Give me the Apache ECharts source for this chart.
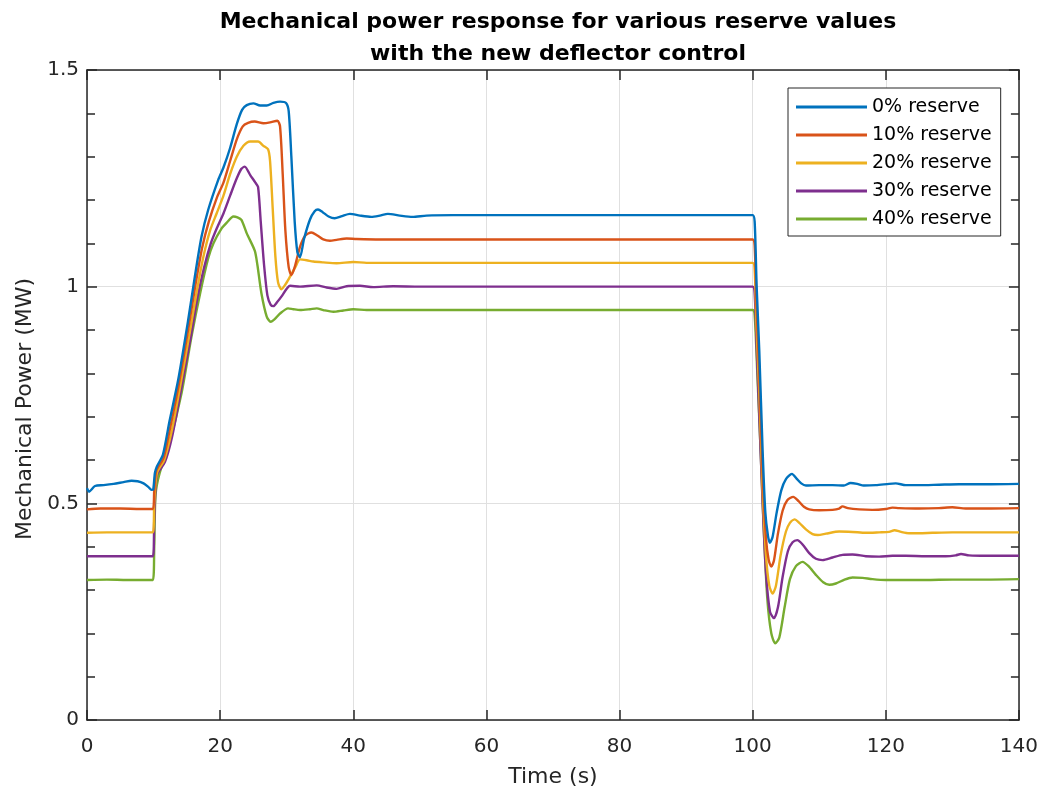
<!DOCTYPE html>
<html>
<head>
<meta charset="utf-8">
<script src="https://cdn.jsdelivr.net/npm/echarts@6/dist/echarts.min.js"></script>
<style>html,body{margin:0;padding:0;background:#fff;}#c{width:1041px;height:795px;}</style>
</head>
<body>
<div id="c"></div>
<script>
const titleLines = ['Mechanical power response for various reserve values', 'with the new deflector control'];
const xName = 'Time (s)';
const yName = 'Mechanical Power (MW)';
const seriesNames = ['0% reserve', '10% reserve', '20% reserve', '30% reserve', '40% reserve'];
const seriesColors = ['#0072BD', '#D95319', '#EDB120', '#7E2F8E', '#77AC30'];

const reserve0 = [[0,0.535],[0.3,0.527],[1.2,0.540],[2.5,0.542],[4,0.545],[5.5,0.549],[6.7,0.552],[7.6,0.551],[8.5,0.546],[9.2,0.538],[9.7,0.531],[9.95,0.532],[10.2,0.57],[10.5,0.585],[11.4,0.612],[12.4,0.69],[13.7,0.785],[15.2,0.923],[16.2,1.023],[17.2,1.115],[18.2,1.177],[19.7,1.246],[20.5,1.275],[21.5,1.32],[22.5,1.375],[23.3,1.408],[24,1.419],[25,1.423],[26,1.418],[27,1.418],[28,1.424],[29,1.427],[29.9,1.424],[30.3,1.405],[30.7,1.3],[31.2,1.15],[31.6,1.08],[32,1.068],[32.6,1.11],[33.5,1.155],[34.2,1.174],[34.7,1.178],[35.4,1.172],[36.3,1.162],[37.2,1.158],[38.3,1.163],[39.5,1.168],[41,1.164],[42.7,1.161],[44,1.164],[45.2,1.168],[47,1.164],[48.9,1.161],[51,1.164],[55,1.165],[60,1.165],[70,1.165],[80,1.165],[90,1.165],[100,1.165],[100.3,1.15],[100.6,1.0],[101,0.85],[101.5,0.62],[101.9,0.48],[102.3,0.425],[102.6,0.409],[103,0.423],[103.6,0.478],[104.3,0.53],[105,0.556],[105.9,0.568],[106.6,0.557],[107.3,0.546],[108,0.541],[110,0.542],[112,0.542],[113.7,0.541],[114.7,0.547],[115.7,0.545],[116.7,0.541],[118.5,0.542],[120.5,0.545],[121.5,0.546],[123,0.542],[125,0.542],[128,0.543],[131,0.544],[135,0.544],[140,0.545]];

const reserve10 = [[0,0.486],[2,0.488],[5,0.488],[8,0.487],[9.9,0.487],[10.1,0.53],[10.4,0.575],[11.5,0.605],[12.5,0.675],[13.8,0.775],[15.3,0.91],[16.3,1.005],[17.3,1.09],[18.3,1.15],[19.5,1.205],[20.5,1.24],[21.5,1.29],[22.5,1.34],[23.4,1.37],[24.2,1.378],[25.2,1.381],[26.5,1.377],[27.5,1.379],[28.6,1.383],[29,1.37],[29.4,1.26],[29.8,1.13],[30.3,1.045],[30.7,1.027],[31.2,1.045],[32,1.092],[32.8,1.118],[33.7,1.125],[34.6,1.118],[35.5,1.109],[36.5,1.106],[37.5,1.108],[39,1.111],[40.5,1.11],[44,1.109],[50,1.109],[60,1.109],[80,1.109],[100,1.109],[100.3,1.095],[100.6,0.95],[101,0.8],[101.5,0.57],[102,0.42],[102.4,0.37],[102.8,0.354],[103.2,0.368],[103.8,0.43],[104.5,0.483],[105.2,0.507],[106.1,0.515],[106.9,0.505],[107.7,0.492],[108.5,0.486],[110,0.484],[112,0.485],[113,0.488],[113.5,0.493],[114.3,0.489],[116,0.486],[118,0.485],[120,0.487],[121,0.49],[122,0.489],[125,0.488],[128,0.489],[130,0.491],[132,0.488],[135,0.488],[140,0.489]];

const reserve20 = [[0,0.432],[3,0.433],[6,0.433],[9.9,0.433],[10.1,0.5],[10.5,0.57],[11.6,0.6],[12.7,0.665],[14,0.77],[15.5,0.9],[16.5,0.99],[17.5,1.07],[18.5,1.13],[19.5,1.17],[20.5,1.21],[21.5,1.26],[22.5,1.3],[23.5,1.325],[24.5,1.335],[25.7,1.335],[26.5,1.325],[27.2,1.317],[27.5,1.29],[27.9,1.18],[28.3,1.07],[28.7,1.01],[29.2,0.994],[29.8,1.005],[30.5,1.023],[31.3,1.045],[32,1.063],[33,1.061],[34,1.058],[35.5,1.056],[37.5,1.054],[40,1.057],[42,1.055],[50,1.055],[70,1.055],[100,1.055],[100.3,1.04],[100.6,0.9],[101,0.75],[101.5,0.53],[102,0.38],[102.5,0.31],[103,0.292],[103.5,0.31],[104.2,0.38],[105,0.435],[105.6,0.455],[106.3,0.463],[107,0.455],[108,0.44],[109,0.429],[109.8,0.427],[111,0.43],[113,0.435],[115,0.434],[117,0.432],[119,0.433],[120.5,0.434],[121.3,0.438],[122.3,0.434],[123.5,0.431],[125,0.431],[127,0.432],[130,0.433],[135,0.433],[140,0.433]];

const reserve30 = [[0,0.378],[3,0.378],[6,0.378],[9.9,0.378],[10.1,0.46],[10.5,0.565],[11.7,0.595],[12.8,0.655],[14.1,0.76],[15.6,0.885],[16.6,0.975],[17.6,1.045],[18.6,1.1],[19.5,1.135],[20.5,1.169],[21.5,1.21],[22.5,1.25],[23.2,1.272],[23.7,1.277],[24.5,1.258],[25.3,1.24],[25.7,1.23],[26.1,1.15],[26.6,1.05],[27.1,0.98],[27.6,0.958],[28,0.955],[28.6,0.965],[29.2,0.977],[30,0.995],[30.5,1.002],[32,1.0],[34.5,1.003],[36,0.998],[37.5,0.995],[39,1.001],[41,1.002],[43,0.999],[46,1.001],[50,1.0],[70,1.0],[100,1.0],[100.3,0.985],[100.6,0.86],[101,0.7],[101.5,0.5],[102,0.34],[102.6,0.25],[103.2,0.235],[103.8,0.26],[104.5,0.33],[105.3,0.39],[106,0.41],[106.7,0.415],[107.5,0.405],[108.5,0.385],[109.5,0.372],[110.5,0.369],[112,0.375],[113.5,0.381],[115,0.382],[117,0.378],[119,0.377],[121,0.379],[123,0.379],[126,0.378],[129,0.378],[130.5,0.38],[131.3,0.383],[132.5,0.38],[135,0.379],[140,0.379]];

const reserve40 = [[0,0.323],[3,0.324],[6,0.323],[9.9,0.323],[10.1,0.4],[10.3,0.52],[10.9,0.569],[12.4,0.639],[14.2,0.754],[15.7,0.885],[17,0.985],[18.2,1.065],[19,1.1],[20.2,1.134],[21,1.148],[22,1.162],[22.6,1.16],[23.2,1.154],[24,1.123],[25.2,1.083],[25.6,1.05],[26.2,0.985],[27,0.931],[27.6,0.919],[28.2,0.925],[29,0.938],[30.2,0.95],[31,0.948],[32,0.946],[33.5,0.948],[34.5,0.95],[35.5,0.946],[37,0.942],[38.5,0.945],[40,0.948],[42,0.946],[45,0.946],[50,0.946],[70,0.946],[100,0.946],[100.3,0.935],[100.7,0.8],[101.2,0.62],[101.7,0.43],[102.2,0.28],[102.8,0.2],[103.4,0.177],[104,0.19],[104.8,0.26],[105.6,0.325],[106.5,0.355],[107.5,0.365],[108.4,0.355],[109.5,0.335],[110.6,0.318],[111.5,0.312],[112.5,0.315],[113.8,0.324],[115,0.329],[116.5,0.328],[118,0.325],[120,0.323],[123,0.323],[126,0.323],[130,0.324],[135,0.324],[140,0.325]];

const seriesData = [reserve0, reserve10, reserve20, reserve30, reserve40];

const FONT = '"DejaVu Sans", Verdana, sans-serif';
const AX = '#262626';
const GRID = '#e0e0e0';

function frameAxis(extra) {
  return Object.assign({
    axisLine: {show: true, onZero: false, lineStyle: {color: AX, width: 1.5}},
    axisTick: {show: true, inside: true, length: 10, lineStyle: {color: AX, width: 1.5}},
    axisLabel: {show: false},
    splitLine: {show: false}
  }, extra);
}

const chart = echarts.init(document.getElementById('c'), null, {renderer: 'canvas'});
const option = {
  animation: false,
  backgroundColor: '#ffffff',
  title: {
    text: titleLines.join('\n'),
    left: 553,
    top: 1,
    textAlign: 'center',
    textStyle: {fontFamily: FONT, fontSize: 22, fontWeight: 'bold', color: '#000', lineHeight: 32}
  },
  legend: {
    data: seriesNames.map(n => ({name: n, icon: 'rect'})),
    orient: 'vertical',
    left: 788,
    top: 88,
    padding: [9, 9, 7, 8],
    backgroundColor: '#ffffff',
    borderColor: AX,
    borderWidth: 1,
    borderRadius: 0,
    itemWidth: 71,
    itemHeight: 3,
    itemGap: 8,
    textStyle: {fontFamily: FONT, fontSize: 19, color: '#000', lineHeight: 20}
  },
  grid: {left: 87, right: 21, top: 70, bottom: 75, containLabel: false},
  xAxis: [frameAxis({
    type: 'value', min: 0, max: 140, interval: 20, position: 'bottom',
    name: xName, nameLocation: 'middle', nameGap: 46,
    nameTextStyle: {fontFamily: FONT, fontSize: 22, color: AX},
    axisLabel: {show: true, fontFamily: FONT, fontSize: 20, color: AX, margin: 17},
    splitLine: {show: true, lineStyle: {color: GRID, width: 1}}
  }), frameAxis({
    type: 'value', min: 0, max: 140, interval: 20, position: 'top'
  })],
  yAxis: [frameAxis({
    type: 'value', min: 0, max: 1.5, interval: 0.5, position: 'left',
    name: yName, nameLocation: 'middle', nameGap: 50, nameRotate: 90,
    nameTextStyle: {fontFamily: FONT, fontSize: 22, color: AX, padding: [0, 28, 0, 0]},
    minorTick: {show: true, splitNumber: 5, length: 8, lineStyle: {color: AX, width: 1.5}},
    axisLabel: {show: true, fontFamily: FONT, fontSize: 20, color: AX, margin: 8},
    splitLine: {show: true, lineStyle: {color: GRID, width: 1}}
  }), frameAxis({
    type: 'value', min: 0, max: 1.5, interval: 0.5, position: 'right',
    minorTick: {show: true, splitNumber: 5, length: 8, lineStyle: {color: AX, width: 1.5}}
  })],
  series: seriesNames.map((n, i) => ({
    name: n,
    type: 'line',
    xAxisIndex: 0,
    yAxisIndex: 0,
    data: seriesData[i],
    symbol: 'none',
    showSymbol: false,
    smooth: 0.25,
    z: 10 - i,
    color: seriesColors[i],
    lineStyle: {color: seriesColors[i], width: 2.4},
    itemStyle: {color: seriesColors[i]}
  }))
};
chart.setOption(option);
</script>
</body>
</html>
